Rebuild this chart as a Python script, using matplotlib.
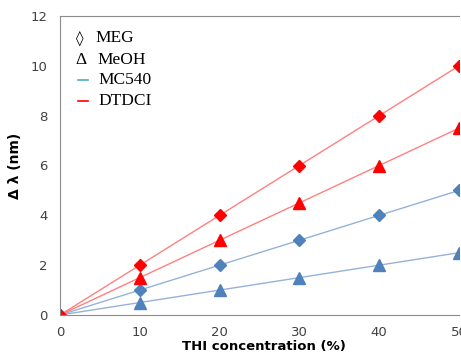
import matplotlib.pyplot as plt

thi = [0, 10, 20, 30, 40, 50]
dtdci_meg = [0, 2, 4, 6, 8, 10]
dtdci_meoh = [0, 1.5, 3, 4.5, 6, 7.5]
mc540_meg = [0, 1, 2, 3, 4, 5]
mc540_meoh = [0, 0.5, 1, 1.5, 2, 2.5]

W, H = 461, 358
fig = plt.figure(figsize=(W / 100, H / 100), dpi=100)
ax = fig.add_axes([60 / W, 43 / H, 399 / W, 299 / H])

blue_line = '#95b3d7'
blue = '#4f81bd'
red_line = '#ff8080'
red = '#ff0000'

ax.plot(thi, mc540_meoh, '-^', color=blue_line, mfc=blue, mec=blue, ms=8.5, lw=1)
ax.plot(thi, mc540_meg, '-D', color=blue_line, mfc=blue, mec=blue, ms=6.5, lw=1)
ax.plot(thi, dtdci_meoh, '-^', color=red_line, mfc=red, mec=red, ms=8.5, lw=1)
ax.plot(thi, dtdci_meg, '-D', color=red_line, mfc=red, mec=red, ms=6.5, lw=1)

ax.set_xlim(0, 50)
ax.set_ylim(0, 12)
ax.set_xticks(thi)
ax.set_yticks(range(0, 13, 2))
ax.tick_params(length=0, labelsize=9.5, labelcolor='#404040')
ax.tick_params(axis='x', pad=8)
ax.tick_params(axis='y', pad=9)
for s in ('left', 'bottom', 'top'):
    ax.spines[s].set_color('#8c8c8c')
ax.spines['right'].set_visible(False)

ax.set_xlabel('THI concentration (%)', fontsize=9.5, fontweight='bold')
ax.xaxis.set_label_coords(0.51, -0.083)
ax.set_ylabel('Δ λ (nm)', fontsize=10, fontweight='bold')
ax.yaxis.set_label_coords(-0.095, 0.5)

# legend drawn as text, like the original
tr = fig.transFigure
serif = 'Liberation Serif'
fig.text(80 / W, 1 - 38 / H, '◊', family='DejaVu Serif', fontsize=11, va='center', ha='center')
fig.text(95 / W, 1 - 38 / H, 'MEG', family=serif, fontsize=12.5, va='center')
fig.text(81 / W, 1 - 60 / H, 'Δ', family=serif, fontsize=12.5, va='center', ha='center')
fig.text(97 / W, 1 - 60 / H, 'MeOH', family=serif, fontsize=12.5, va='center')
fig.add_artist(plt.Line2D([78 / W, 88 / W], [1 - 80 / H] * 2, color='#4bacc6', lw=1.2, transform=tr))
fig.text(98 / W, 1 - 80 / H, 'MC540', family=serif, fontsize=12.5, va='center')
fig.add_artist(plt.Line2D([78 / W, 88 / W], [1 - 101 / H] * 2, color='#ff0000', lw=1.2, transform=tr))
fig.text(98 / W, 1 - 101 / H, 'DTDCI', family=serif, fontsize=12.5, va='center')

fig.savefig('out.png', dpi=100)
